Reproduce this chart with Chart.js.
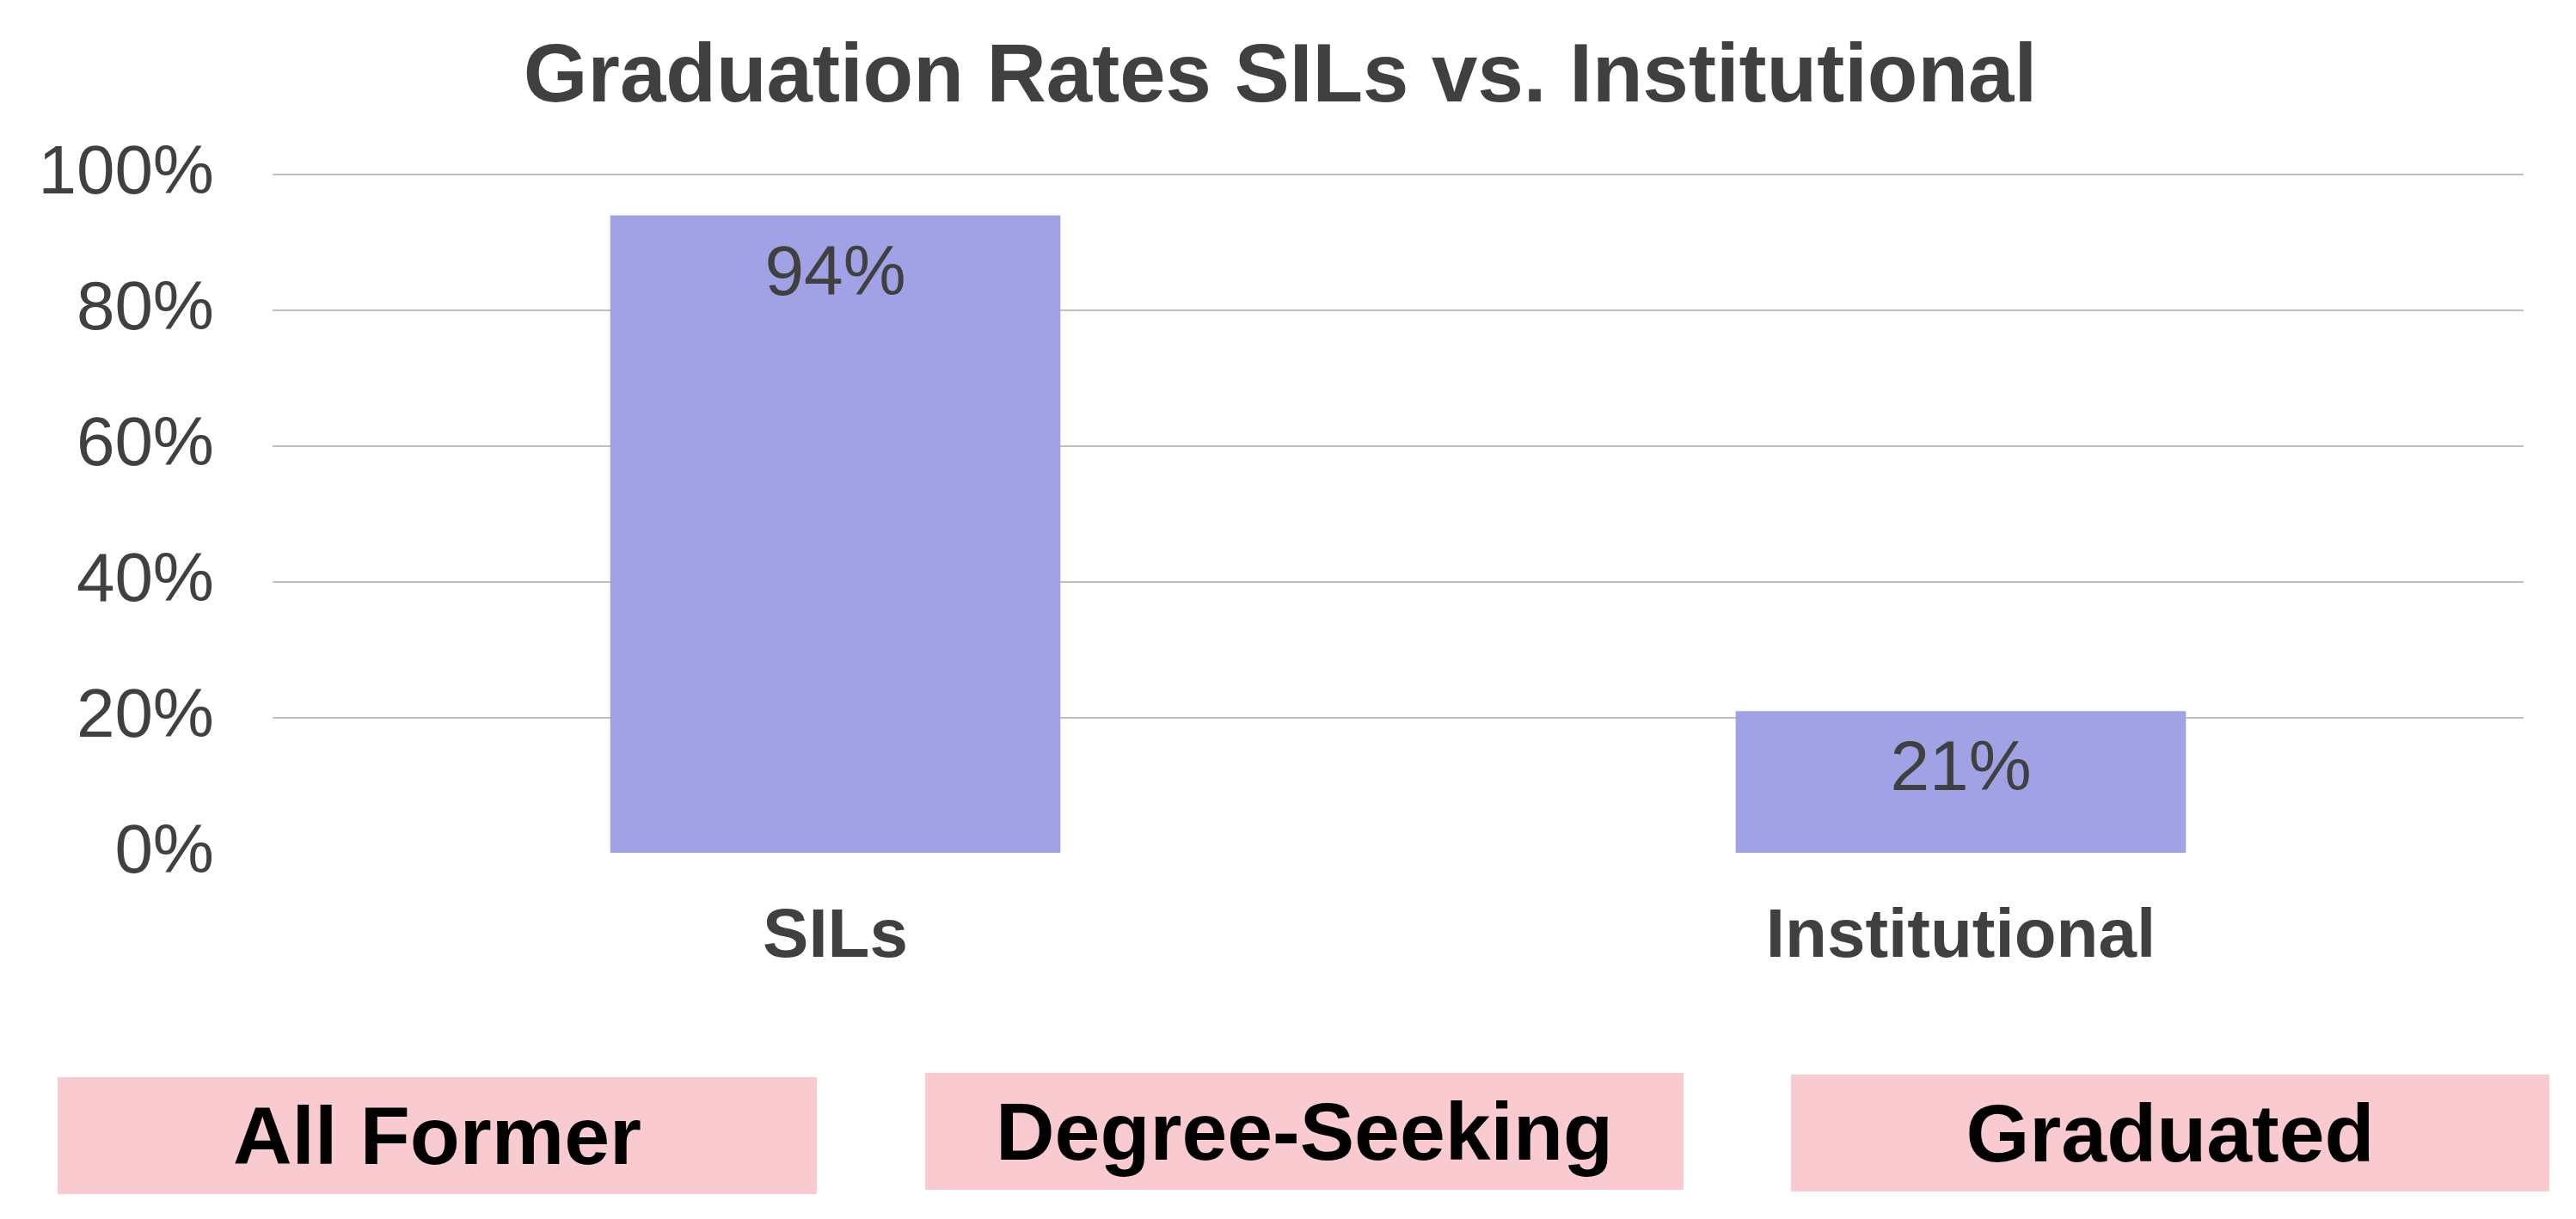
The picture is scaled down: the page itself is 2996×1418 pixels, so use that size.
<!DOCTYPE html>
<html>
<head>
<meta charset="utf-8">
<script src="https://cdn.jsdelivr.net/npm/chart.js@4.4.1/dist/chart.umd.min.js"></script>
<style>
  html, body { margin: 0; padding: 0; background: #fff; }
  .chart__wrapper { position: absolute; left: 0; top: 0; width: 2996px; height: 1418px; }
  .tag {
    position: absolute;
    background: #f9cbd0;
    display: flex;
    align-items: center;
    justify-content: center;
    font-family: "Liberation Sans", Arial, sans-serif;
    font-weight: bold;
    font-size: 95px;
    color: #000;
  }
</style>
</head>
<body>
<div class="chart__wrapper">
  <canvas id="grad-chart"></canvas>
</div>
<div class="tag" style="left:67px; top:1253px; width:883px; height:136px;">All Former</div>
<div class="tag" style="left:1076px; top:1248px; width:882px; height:136px;">Degree-Seeking</div>
<div class="tag" style="left:2083px; top:1250px; width:882px; height:136px;">Graduated</div>

<script>
  const categories = ["SILs", "Institutional"];
  const gradRates = [94, 21];
  const yTicks = [0, 20, 40, 60, 80, 100];

  const font = "'Liberation Sans', Arial, sans-serif";
  const textColor = "#404040";

  // value labels sit just inside the top of each bar
  const barValueLabels = {
    id: "barValueLabels",
    afterDatasetsDraw(chart) {
      const ctx = chart.ctx;
      const meta = chart.getDatasetMeta(0);
      ctx.save();
      ctx.font = "82px " + font;
      ctx.fillStyle = textColor;
      ctx.textAlign = "center";
      ctx.textBaseline = "alphabetic";
      meta.data.forEach((bar, i) => {
        ctx.fillText(gradRates[i] + "%", bar.x, bar.y + 92);
      });
      ctx.restore();
    },
  };

  new Chart(document.getElementById("grad-chart"), {
    type: "bar",
    data: {
      labels: categories,
      datasets: [
        {
          label: "Graduation rate",
          data: gradRates,
          backgroundColor: "#a1a1e6",
          borderWidth: 0,
          categoryPercentage: 1,
          barPercentage: 0.4,
        },
      ],
    },
    options: {
      responsive: true,
      maintainAspectRatio: false,
      devicePixelRatio: 1,
      animation: false,
      layout: {
        padding: { left: 43, right: 61, top: 0, bottom: 237 },
      },
      scales: {
        x: {
          grid: { display: false },
          border: { display: false },
          ticks: {
            color: textColor,
            padding: 42,
            font: { family: font, size: 80, weight: "bold" },
          },
        },
        y: {
          min: 0,
          max: 100,
          afterBuildTicks(scale) {
            scale.ticks = yTicks.map((v) => ({ value: v }));
          },
          afterFit(scale) {
            scale.width = 274;
          },
          grid: {
            drawTicks: false,
            lineWidth: 2,
            color: (c) => (c.tick && c.tick.value === 0 ? "rgba(0,0,0,0)" : "#bfbfbf"),
          },
          border: { display: false },
          ticks: {
            color: textColor,
            padding: 68,
            font: { family: font, size: 80 },
            callback: (v) => v + "%",
          },
        },
      },
      plugins: {
        legend: { display: false },
        tooltip: { enabled: false },
        title: {
          display: true,
          text: "Graduation Rates SILs vs. Institutional",
          color: textColor,
          font: { family: font, size: 96, weight: "bold" },
          padding: { top: 34, bottom: 54 },
        },
      },
    },
    plugins: [barValueLabels],
  });
</script>
</body>
</html>
